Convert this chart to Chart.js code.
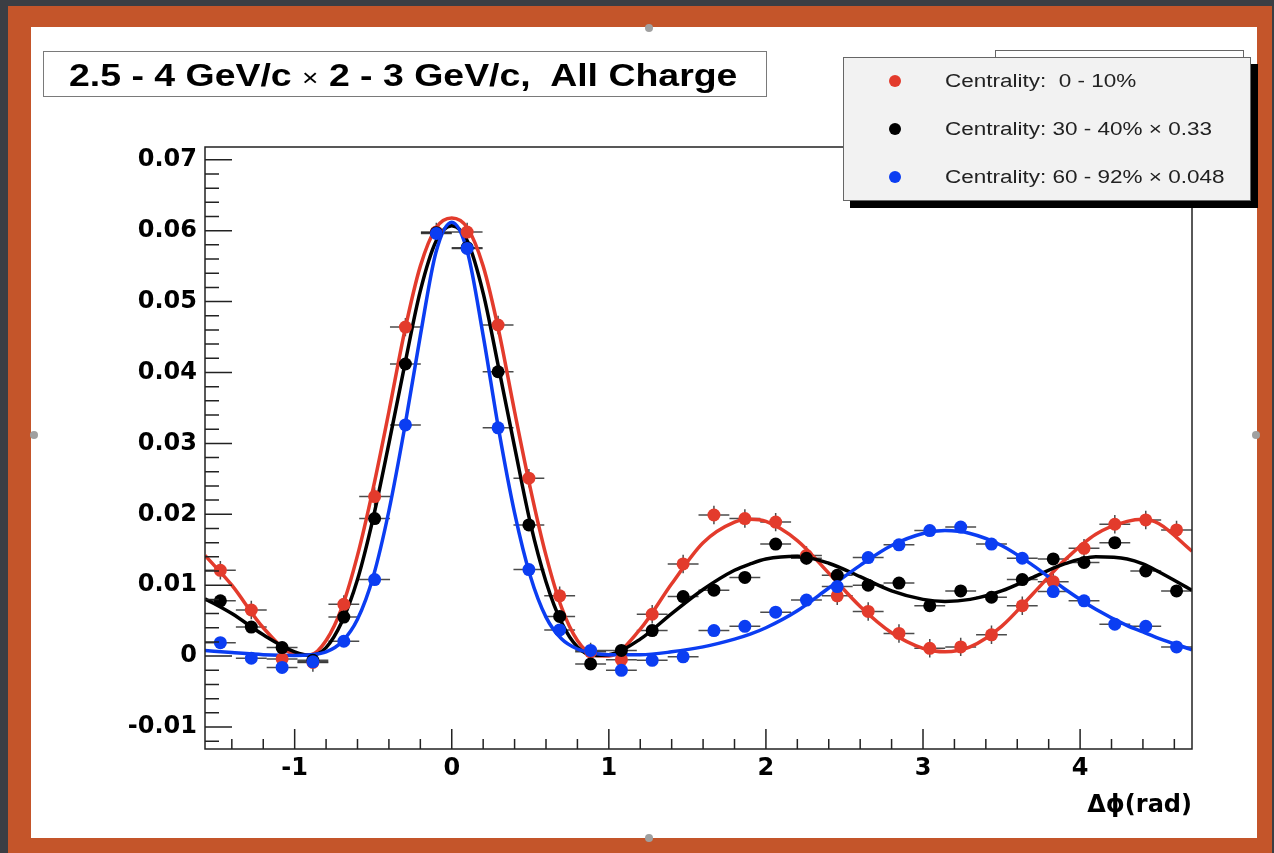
<!DOCTYPE html>
<html>
<head>
<meta charset="utf-8">
<script src="https://cdn.jsdelivr.net/npm/chart.js@4.4.1/dist/chart.umd.min.js"></script>
<style>
  html, body { margin: 0; padding: 0; }
  body { width: 1274px; height: 853px; background: #3b3e44; position: relative; overflow: hidden; font-family: "Liberation Sans", Arial, sans-serif; }
  #frame { position: absolute; left: 8px; top: 6px; width: 1264px; height: 847px; background: #c4552a; }
  #panel { position: absolute; left: 31px; top: 27px; width: 1226px; height: 811px; background: #fff; }
  #wrap { position: absolute; left: 0; top: 0; width: 1274px; height: 853px; }
  .title { position: absolute; left: 43px; top: 51px; width: 722px; height: 44px; border: 1.5px solid #7a7a7a; background: #fff; }
  .title div { position: absolute; left: 25px; top: 0; font-weight: bold; font-size: 32px; line-height: 47px; color: #000;
               white-space: pre; transform: scaleX(1.17); transform-origin: 0 50%; }
  .title .x { font-weight: normal; font-size: 24px; }
  .ghost { position: absolute; left: 995px; top: 50px; width: 247px; height: 20px; border: 1.5px solid #666; background: #fff; }
  .legend { position: absolute; left: 843px; top: 57px; width: 406px; height: 142px; border: 1.5px solid #666; background: #f2f2f2;
            box-shadow: 7px 7px 0 #000; }
  .entry { position: absolute; left: 0; height: 24px; line-height: 24px; font-size: 18px; color: #222; white-space: pre; }
  .entry i { position: absolute; left: 45px; top: 6px; width: 12px; height: 12px; border-radius: 50%; }
  .entry span { position: absolute; left: 101px; transform: scaleX(1.25); transform-origin: 0 50%; }
  .dot { position: absolute; width: 8px; height: 8px; border-radius: 50%; background: #a0a0a0; }
</style>
</head>
<body>
<div id="frame"></div>
<div id="panel"></div>
<div class="dot" style="left:645px; top:24px"></div>
<div class="dot" style="left:30px; top:431px"></div>
<div class="dot" style="left:1252px; top:431px"></div>
<div class="dot" style="left:645px; top:834px"></div>
<div id="wrap"><canvas id="plot"></canvas></div>
<div class="ghost"></div>
<div class="title"><div>2.5 - 4 GeV/c <span class="x">×</span> 2 - 3 GeV/c,  All Charge</div></div>
<div class="legend" id="legend"></div>
<script>
// bin centres in delta-phi (rad)
const xCenters = [-1.473, -1.276, -1.080, -0.884, -0.687, -0.491, -0.295, -0.098, 0.098, 0.295, 0.491, 0.687,
  0.884, 1.080, 1.276, 1.473, 1.669, 1.866, 2.062, 2.258, 2.454, 2.651, 2.847, 3.043,
  3.240, 3.436, 3.632, 3.829, 4.025, 4.221, 4.418, 4.614];

const central = [0.0121, 0.0065, -0.0004, -0.0009, 0.0073, 0.0225, 0.0464, 0.0598, 0.0598, 0.0467, 0.0251, 0.0085,
  0.0006, -0.0005, 0.0059, 0.0130, 0.0199, 0.0194, 0.0189, 0.0142, 0.0085, 0.0063, 0.0032, 0.0011,
  0.0013, 0.0030, 0.0071, 0.0105, 0.0152, 0.0186, 0.0192, 0.0178];
const midCentral = [0.0078, 0.0041, 0.0012, -0.0006, 0.0055, 0.0194, 0.0412, 0.0597, 0.0576, 0.0401, 0.0185, 0.0056,
  -0.0011, 0.0008, 0.0036, 0.0084, 0.0093, 0.0111, 0.0158, 0.0138, 0.0114, 0.0100, 0.0103, 0.0071,
  0.0092, 0.0083, 0.0108, 0.0137, 0.0132, 0.0160, 0.0120, 0.0092];
const peripheral = [0.0019, -0.0003, -0.0016, -0.0008, 0.0021, 0.0108, 0.0326, 0.0596, 0.0575, 0.0322, 0.0122, 0.0037,
  0.0008, -0.0020, -0.0006, -0.0001, 0.0036, 0.0042, 0.0062, 0.0079, 0.0098, 0.0139, 0.0157, 0.0177,
  0.0182, 0.0158, 0.0138, 0.0091, 0.0078, 0.0045, 0.0042, 0.0013];

// y errors (one value per series)
const centralErr = 0.0013;
const midCentralErr = 0.0007;
const peripheralErr = 0.0006;

// fit curves
const fitX = [-1.571, -1.4, -1.2, -1.0, -0.9, -0.8, -0.7, -0.6, -0.5, -0.4, -0.3, -0.2, -0.1, 0, 0.1, 0.2, 0.3, 0.4,
  0.5, 0.6, 0.7, 0.8, 0.9, 1.0, 1.2, 1.4, 1.6, 1.8, 1.9, 2.0, 2.2, 2.4, 2.6, 2.8, 3.0, 3.14, 3.3, 3.5, 3.7, 3.9,
  4.1, 4.3, 4.4, 4.5, 4.712];
const centralFit = [0.0142, 0.0100, 0.0040, 0.0003, 0.0002, 0.0022, 0.0068, 0.0142, 0.0237, 0.0345, 0.0458, 0.0550,
  0.0604, 0.0618, 0.0604, 0.0550, 0.0458, 0.0345, 0.0237, 0.0142, 0.0068, 0.0022, 0.0002, 0.0000, 0.0038,
  0.0102, 0.0160, 0.0189, 0.0193, 0.0190, 0.0163, 0.0117, 0.0070, 0.0033, 0.0011, 0.0006, 0.0013, 0.0042,
  0.0088, 0.0135, 0.0172, 0.0190, 0.0193, 0.0187, 0.0148];
const midCentralFit = [0.0081, 0.0060, 0.0030, 0.0006, 0.0001, 0.0012, 0.0048, 0.0108, 0.0195, 0.0300, 0.0410, 0.0515,
  0.0585, 0.0607, 0.0585, 0.0512, 0.0405, 0.0295, 0.0188, 0.0105, 0.0047, 0.0013, 0.0001, 0.0002, 0.0024,
  0.0060, 0.0094, 0.0121, 0.0130, 0.0137, 0.0141, 0.0131, 0.0112, 0.0092, 0.0080, 0.0077, 0.0080, 0.0092,
  0.0111, 0.0130, 0.0140, 0.0137, 0.0130, 0.0119, 0.0093];
const peripheralFit = [0.0008, 0.0005, 0.0002, 0.0001, 0.0002, 0.0006, 0.0020, 0.0052, 0.0112, 0.0205, 0.0322, 0.0452,
  0.0570, 0.0612, 0.0570, 0.0452, 0.0318, 0.0202, 0.0113, 0.0055, 0.0024, 0.0010, 0.0004, 0.0002, 0.0002,
  0.0006, 0.0013, 0.0024, 0.0031, 0.0040, 0.0064, 0.0096, 0.0128, 0.0156, 0.0173, 0.0177, 0.0173, 0.0156,
  0.0128, 0.0095, 0.0066, 0.0043, 0.0034, 0.0025, 0.0009];

const xTicks = [-1, 0, 1, 2, 3, 4];
const xTickLabels = ["-1", "0", "1", "2", "3", "4"];
const yTicks = [-0.01, 0, 0.01, 0.02, 0.03, 0.04, 0.05, 0.06, 0.07];
const yTickLabels = ["-0.01", "0", "0.01", "0.02", "0.03", "0.04", "0.05", "0.06", "0.07"];
const legendLabels = ["Centrality:  0 - 10%", "Centrality: 30 - 40% × 0.33", "Centrality: 60 - 92% × 0.048"];

const RED = "#e33b2c";
const BLACK = "#000000";
const BLUE = "#0b3df2";
const halfBin = Math.PI / 32;
const AXIS_FONT = "'DejaVu Sans', 'Liberation Sans', sans-serif";

const series = [
  { vals: peripheral, err: peripheralErr, fit: peripheralFit, color: BLUE },
  { vals: midCentral, err: midCentralErr, fit: midCentralFit, color: BLACK },
  { vals: central, err: centralErr, fit: centralFit, color: RED }
];

// legend
const legendEl = document.getElementById("legend");
[RED, BLACK, BLUE].forEach((c, i) => {
  const row = document.createElement("div");
  row.className = "entry";
  row.style.top = (11 + i * 48) + "px";
  row.style.width = "400px";
  row.innerHTML = '<i style="background:' + c + '"></i><span></span>';
  row.querySelector("span").textContent = legendLabels[i];
  legendEl.appendChild(row);
});

const datasets = [];
series.forEach((s) => {
  datasets.push({
    data: xCenters.map((x, i) => ({ x: x, y: s.vals[i] })),
    showLine: false,
    pointRadius: 6.5,
    pointBackgroundColor: s.color,
    pointBorderWidth: 0,
    order: 0
  });
});
series.forEach((s) => {
  datasets.push({
    data: fitX.map((x, i) => ({ x: x, y: s.fit[i] })),
    showLine: true,
    borderColor: s.color,
    borderWidth: 3.5,
    pointRadius: 0,
    cubicInterpolationMode: "monotone",
    order: 1
  });
});

const errorBars = {
  id: "errorBars",
  beforeDatasetsDraw(chart) {
    const { ctx, scales: { x, y } } = chart;
    ctx.save();
    ctx.beginPath();
    ctx.rect(chart.chartArea.left, chart.chartArea.top, chart.chartArea.width, chart.chartArea.height);
    ctx.clip();
    ctx.strokeStyle = "rgba(30,30,30,0.8)";
    ctx.lineWidth = 1.5;
    series.forEach((s) => {
      xCenters.forEach((xc, i) => {
        const px = x.getPixelForValue(xc);
        const py = y.getPixelForValue(s.vals[i]);
        ctx.beginPath();
        ctx.moveTo(x.getPixelForValue(xc - halfBin), py);
        ctx.lineTo(x.getPixelForValue(xc + halfBin), py);
        ctx.moveTo(px, y.getPixelForValue(s.vals[i] - s.err));
        ctx.lineTo(px, y.getPixelForValue(s.vals[i] + s.err));
        ctx.stroke();
      });
    });
    ctx.restore();
  }
};

const frameTicks = {
  id: "frameTicks",
  afterDraw(chart) {
    const { ctx, chartArea: a, scales: { x, y } } = chart;
    ctx.save();
    ctx.strokeStyle = "#222";
    ctx.lineWidth = 1.5;
    ctx.strokeRect(a.left, a.top, a.width, a.height);
    ctx.beginPath();
    for (let k = -6; k <= 35; k++) {
      const v = k * 0.002;
      const py = y.getPixelForValue(v);
      if (py < a.top || py > a.bottom) continue;
      const len = k % 5 === 0 ? 27 : 14;
      ctx.moveTo(a.left, py);
      ctx.lineTo(a.left + len, py);
    }
    for (let k = -7; k <= 23; k++) {
      const v = k * 0.2;
      const px = x.getPixelForValue(v);
      if (px < a.left || px > a.right) continue;
      const len = k % 5 === 0 ? 20 : 10;
      ctx.moveTo(px, a.bottom);
      ctx.lineTo(px, a.bottom - len);
    }
    ctx.stroke();
    ctx.fillStyle = "#000";
    ctx.font = "bold 24px " + AXIS_FONT;
    ctx.textAlign = "right";
    ctx.textBaseline = "middle";
    ctx.fillText("Δϕ(rad)", a.right, 806);
    ctx.restore();
  }
};

new Chart(document.getElementById("plot"), {
  type: "scatter",
  data: { datasets: datasets },
  options: {
    responsive: true,
    maintainAspectRatio: false,
    animation: false,
    layout: { padding: { left: 125, right: 82, top: 147, bottom: 44 } },
    plugins: { legend: { display: false }, tooltip: { enabled: false } },
    scales: {
      x: {
        type: "linear",
        min: -Math.PI / 2,
        max: 3 * Math.PI / 2,
        afterBuildTicks: (s) => { s.ticks = xTicks.map((v) => ({ value: v })); },
        afterFit: (s) => { s.height = 60; },
        ticks: {
          autoSkip: false,
          maxRotation: 0,
          padding: 5,
          color: "#000",
          font: { family: AXIS_FONT, size: 24, weight: "bold" },
          callback: (v, i) => xTickLabels[i]
        },
        grid: { display: false, drawTicks: false },
        border: { display: false }
      },
      y: {
        type: "linear",
        min: -0.0131,
        max: 0.0718,
        afterBuildTicks: (s) => { s.ticks = yTicks.map((v) => ({ value: v })); },
        afterFit: (s) => { s.width = 80; },
        ticks: {
          autoSkip: false,
          padding: 8,
          color: "#000",
          font: { family: AXIS_FONT, size: 24, weight: "bold" },
          callback: (v, i) => yTickLabels[i]
        },
        grid: { display: false, drawTicks: false },
        border: { display: false }
      }
    }
  },
  plugins: [errorBars, frameTicks]
});
</script>
</body>
</html>
